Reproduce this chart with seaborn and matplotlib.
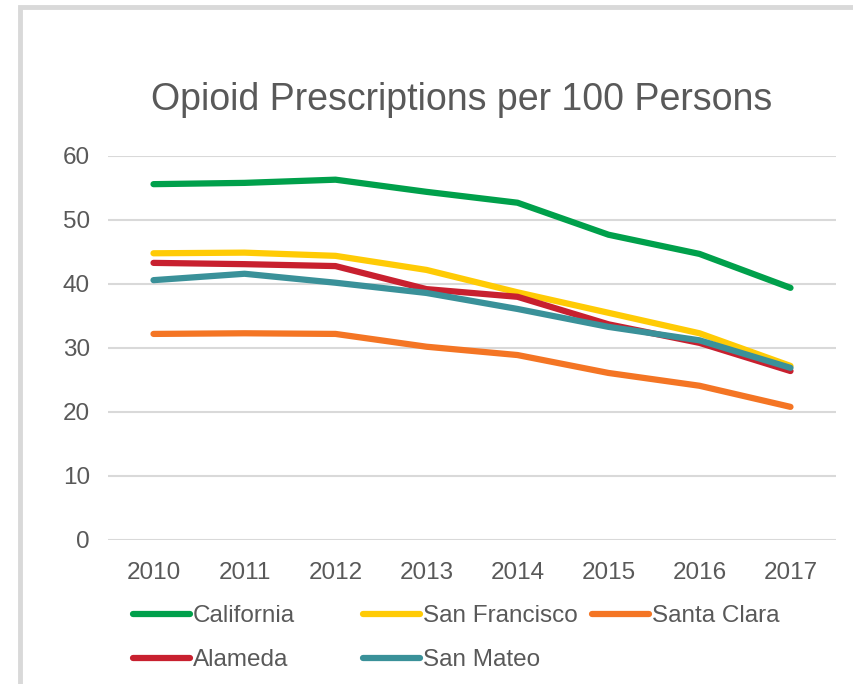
import pandas as pd
import matplotlib
matplotlib.use("Agg")
import matplotlib.pyplot as plt
import seaborn as sns
from matplotlib.patches import Rectangle

# --- datos ---
years = [2010, 2011, 2012, 2013, 2014, 2015, 2016, 2017]
california = [55.6, 55.8, 56.3, 54.4, 52.7, 47.7, 44.7, 39.4]
san_francisco = [44.8, 44.9, 44.4, 42.2, 38.7, 35.5, 32.3, 27.2]
santa_clara = [32.2, 32.3, 32.2, 30.2, 28.9, 26.1, 24.1, 20.8]
alameda = [43.3, 43.1, 42.8, 39.2, 38.0, 33.7, 30.8, 26.4]
san_mateo = [40.6, 41.6, 40.2, 38.6, 36.1, 33.3, 31.2, 26.9]

series = {
    'California': california,
    'San Francisco': san_francisco,
    'Santa Clara': santa_clara,
    'Alameda': alameda,
    'San Mateo': san_mateo,
}
colors = {
    'California': '#00A04B',
    'San Francisco': '#FFCB05',
    'Santa Clara': '#F47524',
    'Alameda': '#C8202F',
    'San Mateo': '#3A9199',
}

df = pd.concat([pd.DataFrame({'Year': years, 'Value': v, 'Region': k})
                for k, v in series.items()], ignore_index=True)

sns.set_theme(style="white")
plt.rcParams['font.family'] = ['Liberation Sans', 'DejaVu Sans']
text_col = '#595959'
grid_col = '#D9D9D9'

fig = plt.figure(figsize=(8.54, 6.84), dpi=100)
ax = fig.add_axes([108/854, 1 - 540/684, (836 - 108)/854, (540 - 156)/684])

# marco gris (recortado a la derecha y abajo)
fig.patches.append(Rectangle((20/854, -0.5), 2, 1.5 - 7/684,
                             transform=fig.transFigure, fill=False,
                             edgecolor=grid_col, linewidth=3.5, zorder=0))

order = ['California', 'San Francisco', 'Santa Clara', 'Alameda', 'San Mateo']
sns.lineplot(data=df, x='Year', y='Value', hue='Region', hue_order=order,
             palette=colors, linewidth=4.5, ax=ax, legend=True,
             solid_capstyle='round')

ax.set_ylim(0, 60)
ax.set_xlim(2009.5, 2017.5)
ax.set_yticks(range(0, 61, 10))
ax.set_xticks(years)
ax.set_xticklabels([str(y) for y in years])
ax.yaxis.grid(True, color=grid_col, linewidth=1.5)
ax.set_axisbelow(True)
for s in ax.spines.values():
    s.set_visible(False)
ax.tick_params(axis='both', length=0, labelsize=17.5, labelcolor=text_col)
ax.tick_params(axis='y', pad=13)
ax.tick_params(axis='x', pad=15.5)
ax.set_xlabel('')
ax.set_ylabel('')

fig.text(0.541, 1 - 100/684, 'Opioid Prescriptions per 100 Persons',
         ha='center', va='center', fontsize=27, color=text_col)

# leyenda estilo Excel: columnas de ancho fijo
handles, labels = ax.get_legend_handles_labels()
hmap = dict(zip(labels, handles))
ax.get_legend().remove()
for h in handles:
    h.set_solid_capstyle('round')
slots = {
    'California': (133, 616),
    'San Francisco': (363, 616),
    'Santa Clara': (592, 616),
    'Alameda': (133, 660),
    'San Mateo': (363, 660),
}
for name, (px, py) in slots.items():
    lg = fig.legend([hmap[name]], [name], frameon=False, loc='center left',
                    bbox_to_anchor=(px/854, 1 - py/684),
                    bbox_transform=fig.transFigure, fontsize=17.5,
                    labelcolor=text_col, handlelength=2.35, handletextpad=0.12,
                    borderaxespad=0, borderpad=0)

fig.savefig('out.png', dpi=100)
